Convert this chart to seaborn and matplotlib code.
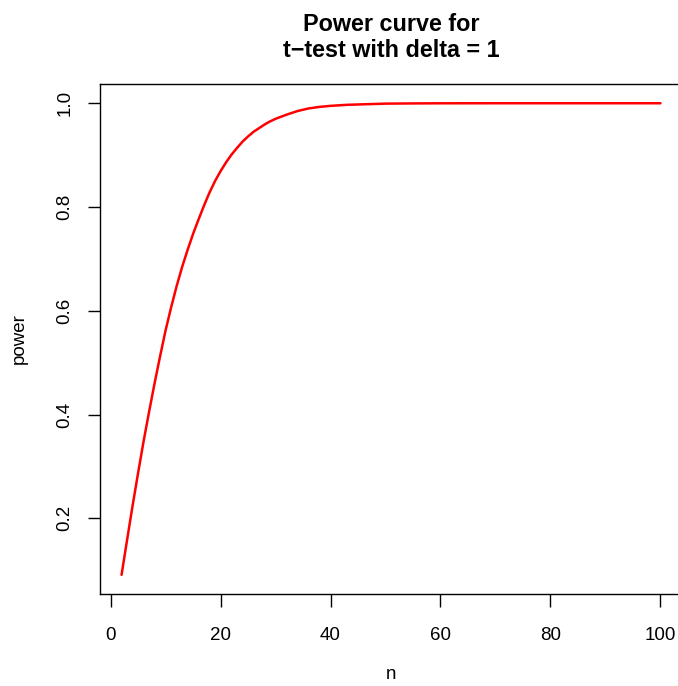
import numpy as np
import pandas as pd
import matplotlib
matplotlib.use("Agg")
import matplotlib.pyplot as plt
import seaborn as sns

# === Data ===
n_values = [2, 3, 4, 5, 6, 7, 8, 9, 10, 11, 12, 13, 14, 15, 16, 17, 18, 19, 20,
            21, 22, 23, 24, 25, 26, 27, 28, 29, 30, 32, 34, 36, 38, 40, 43, 46,
            50, 55, 60, 70, 80, 90, 100]
power_values = [0.091, 0.158, 0.224, 0.287, 0.348, 0.405, 0.460, 0.512, 0.562,
                0.606, 0.647, 0.684, 0.717, 0.748, 0.776, 0.803, 0.828, 0.850,
                0.869, 0.886, 0.901, 0.914, 0.926, 0.936, 0.945, 0.952, 0.959,
                0.965, 0.970, 0.978, 0.985, 0.990, 0.993, 0.995, 0.997, 0.998,
                0.9993, 0.9997, 0.99995, 1.0, 1.0, 1.0, 1.0]
x_ticks = [0, 20, 40, 60, 80, 100]
y_ticks = [0.2, 0.4, 0.6, 0.8, 1.0]

df = pd.DataFrame({"n": n_values, "power": power_values})

sns.set_style("white")
plt.rcParams["font.family"] = ["Liberation Sans", "DejaVu Sans"]
plt.rcParams["text.color"] = "black"
plt.rcParams["axes.labelcolor"] = "black"
plt.rcParams["xtick.color"] = "black"
plt.rcParams["ytick.color"] = "black"

fig = plt.figure(figsize=(6.78, 6.86), dpi=100)
ax = fig.add_axes([0.1475, 0.1345, 0.8584, 0.7425])

sns.lineplot(data=df, x="n", y="power", color="red", linewidth=1.8, ax=ax)

ax.set_xlim(-1.92, 103.92)
ax.set_ylim(0.0546, 1.0364)
ax.set_xticks(x_ticks)
ax.set_xticklabels([str(t) for t in x_ticks])
ax.set_yticks(y_ticks)
ax.set_yticklabels(["0.2", "0.4", "0.6", "0.8", "1.0"], rotation=90, va="center")

ax.tick_params(axis="both", direction="out", length=9, width=1, colors="black",
               labelsize=13.5, bottom=True, left=True)
ax.tick_params(axis="x", pad=15)
ax.tick_params(axis="y", pad=10)
for s in ax.spines.values():
    s.set_color("black")
    s.set_linewidth(1)

ax.set_xlabel("n", fontsize=13.5, labelpad=16)
ax.set_ylabel("power", fontsize=13.5, labelpad=21)
ax.set_title("Power curve for\nt\u2212test with delta = 1", fontsize=16.8,
             fontweight="bold", pad=20, linespacing=1.15, color="black")

fig.savefig("out.png", dpi=100)
